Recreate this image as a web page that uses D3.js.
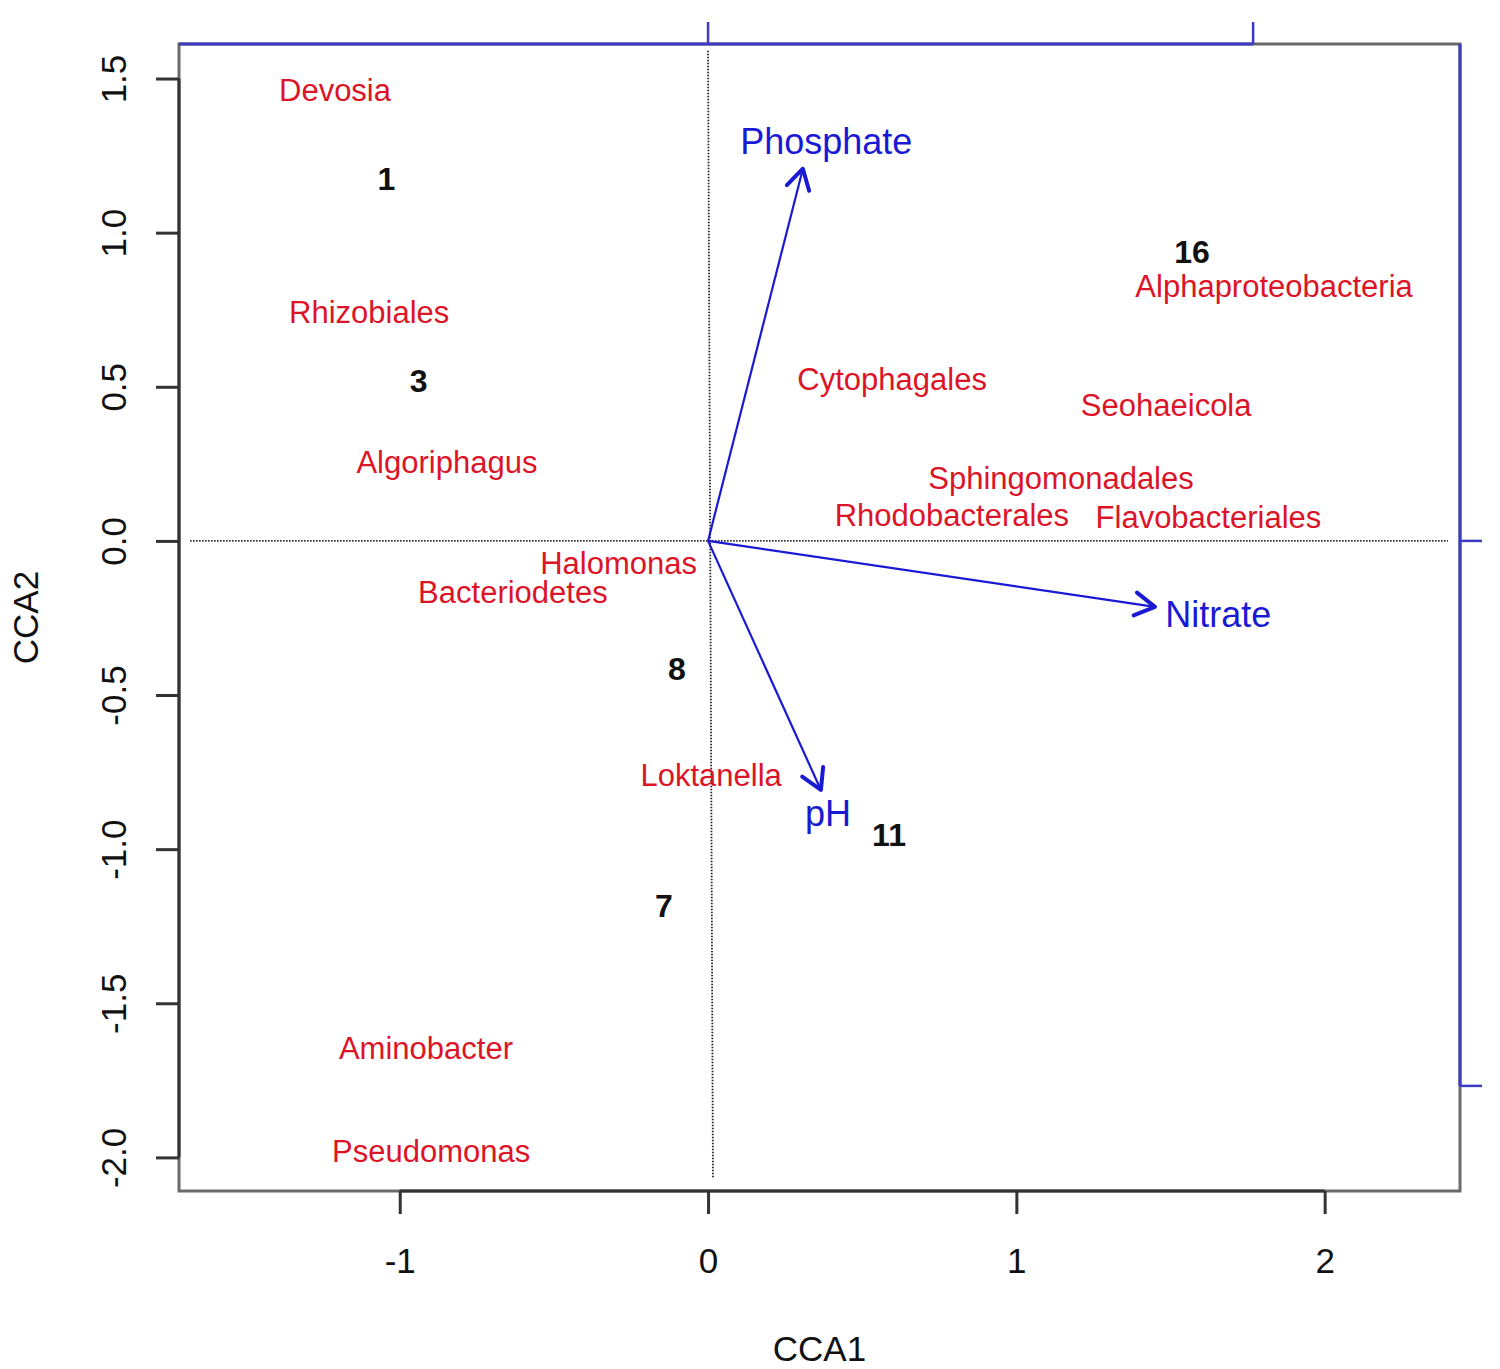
<!DOCTYPE html>
<html>
<head>
<meta charset="utf-8">
<script src="https://cdn.jsdelivr.net/npm/d3@7"></script>
<style>
  html, body { margin: 0; padding: 0; background: #fff; }
  svg { display: block; font-family: "Liberation Sans", Arial, sans-serif; }
</style>
</head>
<body>
<div id="chart"></div>
<script>
// CCA1 / CCA2 scores
const speciesNames = ["Devosia", "Rhizobiales", "Algoriphagus", "Halomonas", "Bacteriodetes",
    "Loktanella", "Aminobacter", "Pseudomonas", "Cytophagales", "Seohaeicola",
    "Sphingomonadales", "Rhodobacterales", "Flavobacteriales", "Alphaproteobacteria"];
const speciesCCA1 = [-1.210, -1.099, -0.847, -0.290, -0.633, 0.010, -0.915, -0.898, 0.597, 1.486, 1.145, 0.791, 1.623, 1.836];
const speciesCCA2 = [1.463, 0.743, 0.255, -0.070, -0.164, -0.758, -1.645, -1.979, 0.527, 0.440, 0.203, 0.084, 0.078, 0.827];

const siteNames = ["1", "3", "16", "8", "11", "7"];
const siteCCA1 = [-1.043, -0.939, 1.570, -0.101, 0.587, -0.143];
const siteCCA2 = [1.176, 0.521, 0.938, -0.415, -0.951, -1.184];

// biplot arrows, in units of the blue (top/right) axes
const envNames = ["Phosphate", "Nitrate", "pH"];
const envCCA1 = [0.174, 0.820, 0.207];
const envCCA2 = [0.683, -0.121, -0.457];
const envLabelCCA1 = [0.217, 0.936, 0.220];
const envLabelCCA2 = [0.734, -0.134, -0.499];
const arrowMul = 1.768;

const xTicks = [-1, 0, 1, 2];
const yTicks = [-2.0, -1.5, -1.0, -0.5, 0.0, 0.5, 1.0, 1.5];
const blueXTicks = [0, 1];
const blueYTicks = [0, -1];

// dotted zero lines as drawn in the figure
const zeroLines = [
    { x1: -1.680, y1: 0, x2: 2.400, y2: 0 },
    { x1: 0, y1: 1.590, x2: 0.016, y2: -2.069 }
];

const W = 1500, H = 1369;
const plot = { left: 179, right: 1460, top: 44, bottom: 1191 };
const red = "#dc1428", blue = "#1a1ad4", axisBlue = "#3b3bc6";

const svg = d3.select("#chart").append("svg")
    .attr("width", W)
    .attr("height", H);

const x = d3.scaleLinear().domain([-1.716, 2.439]).range([plot.left, plot.right]);
const y = d3.scaleLinear().domain([-2.109, 1.612]).range([plot.bottom, plot.top]);
const xB = d3.scaleLinear().domain(x.domain().map(v => v / arrowMul)).range(x.range());
const yB = d3.scaleLinear().domain(y.domain().map(v => v / arrowMul)).range(y.range());

// box
svg.append("rect")
    .attr("x", plot.left)
    .attr("y", plot.top)
    .attr("width", plot.right - plot.left)
    .attr("height", plot.bottom - plot.top)
    .style("fill", "none")
    .style("stroke", "#6a6a6a")
    .style("stroke-width", 3);

// dotted zero lines
svg.selectAll(".zero")
    .data(zeroLines)
    .enter().append("line")
    .attr("class", "zero")
    .attr("x1", d => x(d.x1)).attr("y1", d => y(d.y1))
    .attr("x2", d => x(d.x2)).attr("y2", d => y(d.y2))
    .style("stroke", "#222")
    .style("stroke-width", 1.8)
    .style("stroke-dasharray", "1.5,1.5");

// bottom axis
const gX = svg.append("g")
    .attr("transform", `translate(0,${plot.bottom})`)
    .style("font-size", "35px")
    .style("font-family", "'Liberation Sans', Arial, sans-serif")
    .call(d3.axisBottom(x).tickValues(xTicks).tickSize(23).tickPadding(34).tickFormat(d => String(d)));
gX.select(".domain").remove();
gX.selectAll(".tick line").style("stroke", "#333").style("stroke-width", 3);
gX.selectAll(".tick text").style("fill", "#111");
gX.append("line")
    .attr("x1", x(d3.min(xTicks))).attr("x2", x(d3.max(xTicks)))
    .style("stroke", "#333").style("stroke-width", 3);

// left axis
const gY = svg.append("g")
    .attr("transform", `translate(${plot.left},0)`)
    .style("font-size", "35px")
    .style("font-family", "'Liberation Sans', Arial, sans-serif")
    .call(d3.axisLeft(y).tickValues(yTicks).tickSize(23).tickFormat(d => d.toFixed(1)));
gY.select(".domain").remove();
gY.selectAll(".tick line").style("stroke", "#333").style("stroke-width", 3);
gY.selectAll(".tick text")
    .attr("x", 0)
    .attr("y", -53)
    .attr("dy", null)
    .attr("transform", "rotate(-90)")
    .attr("text-anchor", "middle")
    .style("fill", "#111");
gY.append("line")
    .attr("y1", y(d3.min(yTicks))).attr("y2", y(d3.max(yTicks)))
    .style("stroke", "#333").style("stroke-width", 3);

// blue top axis
const gTop = svg.append("g").attr("transform", `translate(0,${plot.top})`);
gTop.append("line")
    .attr("x1", plot.left).attr("x2", xB(d3.max(blueXTicks)))
    .style("stroke", axisBlue).style("stroke-width", 3);
gTop.selectAll(".btick")
    .data(blueXTicks)
    .enter().append("line")
    .attr("x1", d => xB(d)).attr("x2", d => xB(d))
    .attr("y1", 0).attr("y2", -22)
    .style("stroke", axisBlue).style("stroke-width", 2.5);

// blue right axis
const gRight = svg.append("g").attr("transform", `translate(${plot.right},0)`);
gRight.append("line")
    .attr("y1", plot.top).attr("y2", yB(d3.min(blueYTicks)))
    .style("stroke", axisBlue).style("stroke-width", 3);
gRight.selectAll(".btick")
    .data(blueYTicks)
    .enter().append("line")
    .attr("y1", d => yB(d)).attr("y2", d => yB(d))
    .attr("x1", 0).attr("x2", 22)
    .style("stroke", axisBlue).style("stroke-width", 2.5);

// axis titles
svg.append("text")
    .attr("x", (plot.left + plot.right) / 2)
    .attr("y", 1348)
    .attr("dy", "0.36em")
    .attr("text-anchor", "middle")
    .style("font-size", "35px")
    .style("fill", "#111")
    .text("CCA1");

svg.append("text")
    .attr("transform", `translate(25,${(plot.top + plot.bottom) / 2}) rotate(-90)`)
    .attr("dy", "0.36em")
    .attr("text-anchor", "middle")
    .style("font-size", "35px")
    .style("fill", "#111")
    .text("CCA2");

// species
const species = speciesNames.map((n, i) => ({ name: n, x: speciesCCA1[i], y: speciesCCA2[i] }));
svg.selectAll(".species")
    .data(species)
    .enter().append("text")
    .attr("class", "species")
    .attr("x", d => x(d.x))
    .attr("y", d => y(d.y))
    .attr("dy", "0.36em")
    .attr("text-anchor", "middle")
    .style("font-size", "31px")
    .style("fill", red)
    .text(d => d.name);

// sites
const sites = siteNames.map((n, i) => ({ name: n, x: siteCCA1[i], y: siteCCA2[i] }));
svg.selectAll(".site")
    .data(sites)
    .enter().append("text")
    .attr("class", "site")
    .attr("x", d => x(d.x))
    .attr("y", d => y(d.y))
    .attr("dy", "0.36em")
    .attr("text-anchor", "middle")
    .style("font-size", "32px")
    .style("font-weight", "bold")
    .style("fill", "#111")
    .text(d => d.name);

// environmental arrows
const env = envNames.map((n, i) => ({
    name: n, x: envCCA1[i], y: envCCA2[i], lx: envLabelCCA1[i], ly: envLabelCCA2[i]
}));
const headLen = 23, headAng = Math.PI / 6;

const arrows = svg.selectAll(".arrow")
    .data(env)
    .enter().append("g")
    .attr("class", "arrow");

arrows.append("line")
    .attr("x1", xB(0)).attr("y1", yB(0))
    .attr("x2", d => xB(d.x)).attr("y2", d => yB(d.y))
    .style("stroke", blue)
    .style("stroke-width", 2.2);

arrows.append("path")
    .attr("d", d => {
        const tx = xB(d.x), ty = yB(d.y);
        const a = Math.atan2(ty - yB(0), tx - xB(0));
        const p1 = [tx - headLen * Math.cos(a - headAng), ty - headLen * Math.sin(a - headAng)];
        const p2 = [tx - headLen * Math.cos(a + headAng), ty - headLen * Math.sin(a + headAng)];
        return `M${p1[0]},${p1[1]}L${tx},${ty}L${p2[0]},${p2[1]}`;
    })
    .style("fill", "none")
    .style("stroke", blue)
    .style("stroke-width", 4)
    .style("stroke-linecap", "round")
    .style("stroke-linejoin", "round");

arrows.append("text")
    .attr("x", d => xB(d.lx))
    .attr("y", d => yB(d.ly))
    .attr("dy", "0.36em")
    .attr("text-anchor", "middle")
    .style("font-size", "36px")
    .style("fill", blue)
    .text(d => d.name);
</script>
</body>
</html>
